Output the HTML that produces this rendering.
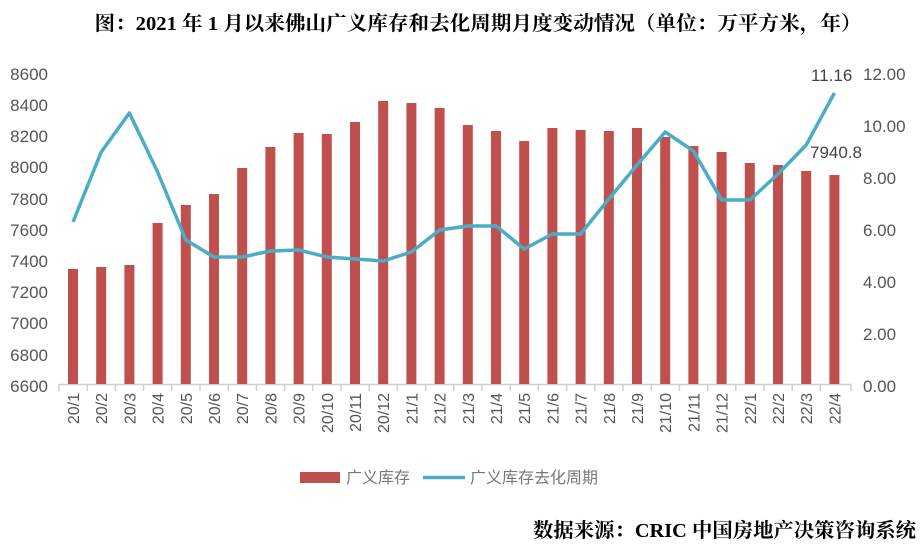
<!DOCTYPE html>
<html><head><meta charset="utf-8"><style>
body{margin:0;background:#fff;width:922px;height:554px;overflow:hidden}
svg{display:block}
text{font-family:"Liberation Sans","Noto Sans CJK SC",sans-serif}
</style></head><body>
<svg width="922" height="554" viewBox="0 0 922 554">
<text x="478" y="30" text-anchor="middle" font-size="20" font-weight="bold" fill="#000" textLength="767" lengthAdjust="spacingAndGlyphs" style='font-family:"Liberation Serif","Noto Serif CJK SC",serif'>图：2021 年 1 月以来佛山广义库存和去化周期月度变动情况（单位：万平方米，年）</text>
<g font-size="17" fill="#555" text-anchor="end">
<text x="48" y="80">8600</text><text x="48" y="111">8400</text><text x="48" y="142">8200</text><text x="48" y="173">8000</text><text x="48" y="205">7800</text><text x="48" y="236">7600</text><text x="48" y="267">7400</text><text x="48" y="298">7200</text><text x="48" y="329">7000</text><text x="48" y="361">6800</text><text x="48" y="392">6600</text>
</g>
<g font-size="17" fill="#555">
<text x="863" y="80">12.00</text><text x="863" y="132">10.00</text><text x="863" y="184">8.00</text><text x="863" y="236">6.00</text><text x="863" y="288">4.00</text><text x="863" y="340">2.00</text><text x="863" y="392">0.00</text>
</g>
<line x1="59" y1="384.5" x2="851" y2="384.5" stroke="#d0d0d0" stroke-width="1.5"/>
<g id="bars" fill="#c0504d"></g>
<g id="ticks" stroke="#d0d0d0" stroke-width="1.5"></g>
<g id="lbls" font-size="16" fill="#555"></g>
<polyline id="ln" fill="none" stroke="#4bacc6" stroke-width="3.5" stroke-linejoin="round"/>
<text x="811" y="81" font-size="17" fill="#444">11.16</text>
<text x="810" y="158" font-size="17" fill="#444">7940.8</text>
<rect x="300" y="472" width="40" height="11" fill="#c0504d"/>
<text x="346" y="483" font-size="16" fill="#777">广义库存</text>
<line x1="423" y1="477.5" x2="465" y2="477.5" stroke="#4bacc6" stroke-width="3.5"/>
<text x="470" y="483" font-size="16" fill="#777">广义库存去化周期</text>
<text x="916" y="537" text-anchor="end" font-size="20" font-weight="bold" fill="#000" textLength="383" lengthAdjust="spacingAndGlyphs" style='font-family:"Liberation Serif","Noto Serif CJK SC",serif'>数据来源：CRIC 中国房地产决策咨询系统</text>
</svg>
<script>
var tops=[269,267,265,223,205,194,168,147,133,134,122,101,103,108,125,131,141,128,130,131,128,137,146,152,163,165,171,175];
var ly=[222,152,113,172,240,257,257,251,250,257,259,261,252,230,226,226,249,234,234,199,165,132,151,200,200,174,145,93];
var labs=[];for(var y=20;y<=22;y++){for(var m=1;m<=12;m++){if(y==22&&m>4)break;labs.push(y+"/"+m);}}
var ns="http://www.w3.org/2000/svg",b=document.getElementById("bars"),t=document.getElementById("ticks"),l=document.getElementById("lbls"),pts=[];
for(var i=0;i<28;i++){var cx=73+i*28.2;
var r=document.createElementNS(ns,"rect");r.setAttribute("x",cx-5);r.setAttribute("y",tops[i]);r.setAttribute("width",10);r.setAttribute("height",384-tops[i]);b.appendChild(r);
var k=document.createElementNS(ns,"line");var tx=59+i*28.2;k.setAttribute("x1",tx);k.setAttribute("x2",tx);k.setAttribute("y1",384);k.setAttribute("y2",391);t.appendChild(k);
var s=document.createElementNS(ns,"text");s.setAttribute("transform","translate("+(cx+6)+",393) rotate(-90)");s.setAttribute("text-anchor","end");s.textContent=labs[i];l.appendChild(s);
pts.push(cx+","+ly[i]);}
var k2=document.createElementNS(ns,"line");k2.setAttribute("x1",851);k2.setAttribute("x2",851);k2.setAttribute("y1",384);k2.setAttribute("y2",391);t.appendChild(k2);
document.getElementById("ln").setAttribute("points",pts.join(" "));
</script>
</body></html>
